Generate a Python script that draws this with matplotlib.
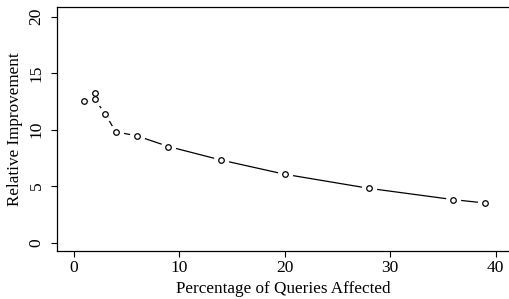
import matplotlib
matplotlib.use("Agg")
import matplotlib.pyplot as plt

pct_affected = [1, 2, 2, 3, 4, 6, 9, 14, 20, 28, 36, 39]
rel_improvement = [12.5, 13.25, 12.7, 11.4, 9.8, 9.45, 8.5, 7.3, 6.05, 4.8, 3.8, 3.5]
xticks = [0, 10, 20, 30, 40]
yticks = [0, 5, 10, 15, 20]

plt.rcParams['font.family'] = ['Liberation Serif', 'DejaVu Serif']

fig = plt.figure(figsize=(5.09, 2.99), dpi=100)
ax = fig.add_axes([0.112, 0.1605, 0.95, 0.816])

# R-style type="b": line with gaps around the points
ax.plot(pct_affected, rel_improvement, color='black', lw=0.9, zorder=1)
ax.plot(pct_affected, rel_improvement, ls='none', marker='o', ms=10,
        mfc='white', mec='white', zorder=2)
ax.plot(pct_affected, rel_improvement, ls='none', marker='o', ms=4,
        mfc='white', mec='black', mew=0.9, zorder=3)

# x=0 at 73.5px, 10 units = 105.5px; axes spans 57px .. beyond right edge
x0 = -16.5 / 10.55
ax.set_xlim(x0, x0 + 0.95 * 509 / 10.55)
ax.set_ylim(-0.75, 20.85)
ax.set_xticks(xticks)
ax.set_yticks(yticks)
ax.tick_params(direction='out', length=4.5, width=0.8, labelsize=12.5)
ax.tick_params(axis='x', pad=2)
ax.tick_params(axis='y', pad=4.5)
for lab in ax.get_yticklabels():
    lab.set_rotation(90)
    lab.set_va('center')
for s in ax.spines.values():
    s.set_linewidth(0.9)
ax.spines['right'].set_visible(False)

fig.text(0.557, 0.035, 'Percentage of Queries Affected', ha='center', va='center', fontsize=12.3)
fig.text(0.03, 0.569, 'Relative Improvement', ha='center', va='center', rotation=90, fontsize=12.3)

fig.savefig('out.png', dpi=100)
